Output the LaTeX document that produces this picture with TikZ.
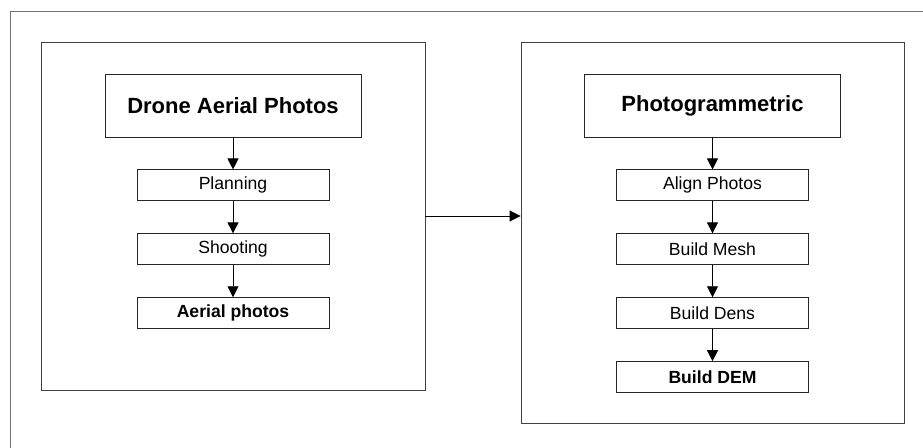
\documentclass[tikz,border=0pt]{standalone}
\usepackage{fontspec}
\setmainfont{Liberation Sans}
\usetikzlibrary{positioning,arrows.meta}
\tikzset{
	titlebox/.style={draw=black!85, line width=0.9pt, minimum width=256pt, minimum height=63pt, inner sep=0pt, font=\fontsize{22}{26}\selectfont\bfseries},
	stepbox/.style={draw=black!85, line width=0.9pt, minimum width=192pt, minimum height=31pt, inner sep=0pt, font=\fontsize{17.6}{20}\selectfont},
	groupbox/.style={draw=black!75, line width=0.9pt, inner sep=0pt},
	flow/.style={-{Triangle[width=11pt,length=11pt]}, line width=0.9pt},
}
\begin{document}
\begin{tikzpicture}[x=1pt, y=-1pt, node distance=32pt]
		\useasboundingbox (0,0) rectangle (923,447);
		\clip (0,0) rectangle (923,447);
		\draw [black!55, line width=0.9pt] (10,11) rectangle (960,480);
		% drone side
		\node [groupbox, minimum width=384pt, minimum height=348pt] (drone) at (233,216) {};
		\node [titlebox] (dap) at (233,105.5) {Drone Aerial Photos};
		\node [stepbox, below=32pt of dap] (plan) {Planning};
		\node [stepbox, below=of plan] (shoot) {Shooting};
		\node [stepbox, below=of shoot, font=\fontsize{17.6}{20}\selectfont\bfseries] (aerial) {Aerial photos};
		% photogrammetry side
		\node [groupbox, minimum width=383pt, minimum height=381pt] (photo) at (712.5,232.5) {};
		\node [titlebox] (pgm) at (712.5,105.5) {Photogrammetric};
		\node [stepbox, below=32pt of pgm] (align) {Align Photos};
		\node [stepbox, below=of align] (mesh) {Build Mesh};
		\node [stepbox, below=of mesh] (dens) {Build Dens};
		\node [stepbox, below=of dens, font=\fontsize{17.6}{20}\selectfont\bfseries] (dem) {Build DEM};
		\draw [flow] (dap) -- (plan);
		\draw [flow] (plan) -- (shoot);
		\draw [flow] (shoot) -- (aerial);
		\draw [flow] (pgm) -- (align);
		\draw [flow] (align) -- (mesh);
		\draw [flow] (mesh) -- (dens);
		\draw [flow] (dens) -- (dem);
		\draw [flow] (drone.east) -- (drone.east -| photo.west);
	\end{tikzpicture}
\end{document}
